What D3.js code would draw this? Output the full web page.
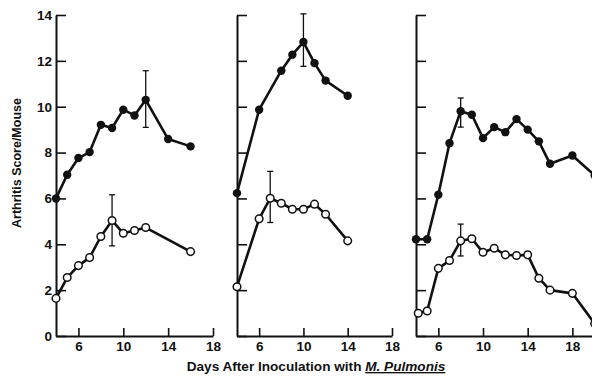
<!DOCTYPE html>
<html>
<head>
<meta charset="utf-8">
<script src="https://cdn.jsdelivr.net/npm/d3@7"></script>
<style>
  body { margin: 0; background: #fff; }
  svg { display: block; font-family: "Liberation Sans", Arial, sans-serif; font-weight: bold; }
</style>
</head>
<body>
<script>
// tick labels
const yTicks = [0, 2, 4, 6, 8, 10, 12, 14];
const xTicks = [6, 10, 14, 18];

// panel 1
const p1FilledDays = [4, 5, 6, 7, 8, 9, 10, 11, 12, 14, 16];
const p1Filled = [6.0, 7.03, 7.76, 8.02, 9.21, 9.07, 9.87, 9.62, 10.3, 8.59, 8.27];
const p1OpenDays = [4, 5, 6, 7, 8, 9, 10, 11, 12, 16];
const p1Open = [1.64, 2.55, 3.07, 3.42, 4.34, 5.04, 4.48, 4.6, 4.73, 3.68];
const p1Errors = [[12, 9.1, 11.57], [9, 3.93, 6.16]];

// panel 2
const p2FilledDays = [4, 6, 8, 9, 10, 11, 12, 14];
const p2Filled = [6.23, 9.87, 11.57, 12.27, 12.82, 11.9, 11.14, 10.48];
const p2OpenDays = [4, 6, 7, 8, 9, 10, 11, 12, 14];
const p2Open = [2.15, 5.11, 6.01, 5.79, 5.53, 5.53, 5.75, 5.31, 4.15];
const p2Errors = [[10, 11.76, 14.05], [7, 4.95, 7.18]];

// panel 3
const p3FilledDays = [4, 5, 6, 7, 8, 9, 10, 11, 12, 13, 14, 15, 16, 18, 20];
const p3Filled = [4.22, 4.22, 6.16, 8.41, 9.8, 9.65, 8.63, 9.11, 8.89, 9.46, 9.0, 8.49, 7.51, 7.87, 7.0];
const p3OpenDays = [4.2, 5, 6, 7, 8, 9, 10, 11, 12, 13, 14, 15, 16, 18, 20];
const p3Open = [0.99, 1.09, 2.95, 3.29, 4.15, 4.24, 3.65, 3.83, 3.54, 3.51, 3.54, 2.52, 2.0, 1.86, 0.54];
const p3Errors = [[8, 9.11, 10.38], [8, 3.49, 4.88]];

const width = 592, height = 388;

const svg = d3.select("body").append("svg")
    .attr("width", width)
    .attr("height", height);

const y = d3.scaleLinear().domain([0, 14]).range([336, 15]);

const panels = [
    { left: 56, right: 213, max: 18, labels: true, fd: p1FilledDays, fv: p1Filled, od: p1OpenDays, ov: p1Open, err: p1Errors },
    { left: 237, right: 392, max: 18, labels: false, fd: p2FilledDays, fv: p2Filled, od: p2OpenDays, ov: p2Open, err: p2Errors },
    { left: 416, right: 594.7, max: 20, labels: false, fd: p3FilledDays, fv: p3Filled, od: p3OpenDays, ov: p3Open, err: p3Errors }
];

panels.forEach(p => {
    const x = d3.scaleLinear().domain([4, p.max]).range([p.left, p.right]);
    const g = svg.append("g");

    // y axis, ticks pointing inward
    g.append("g")
        .attr("transform", "translate(" + p.left + ",0)")
        .call(d3.axisLeft(y).tickValues(yTicks).tickSizeInner(-10).tickSizeOuter(0).tickPadding(4)
            .tickFormat(p.labels ? d3.format("d") : () => ""));

    // x axis, ticks pointing up
    g.append("g")
        .attr("transform", "translate(0," + y(0) + ")")
        .call(d3.axisBottom(x).tickValues(xTicks).tickSizeInner(-8).tickSizeOuter(0).tickPadding(5));

    g.selectAll(".domain").attr("stroke", "#111").attr("stroke-width", 2);
    g.selectAll(".tick line").attr("stroke", "#111").attr("stroke-width", 1.6);
    g.selectAll(".tick text").attr("fill", "#111").attr("font-size", 13.5)
        .attr("font-weight", "bold").attr("font-family", "Liberation Sans, Arial, sans-serif");

    const line = d3.line()
        .x(d => x(d[0]))
        .y(d => y(d[1]));

    const filled = p.fd.map((d, i) => [d, p.fv[i]]);
    const open = p.od.map((d, i) => [d, p.ov[i]]);

    [filled, open].forEach(s => {
        g.append("path")
            .datum(s)
            .attr("fill", "none")
            .attr("stroke", "#111")
            .attr("stroke-width", 2.6)
            .attr("stroke-linejoin", "round")
            .attr("d", line);
    });

    // error bars
    p.err.forEach(e => {
        const ex = x(e[0]);
        g.append("line").attr("x1", ex).attr("x2", ex).attr("y1", y(e[1])).attr("y2", y(e[2]))
            .attr("stroke", "#111").attr("stroke-width", 1.3);
        [e[1], e[2]].forEach(v => {
            g.append("line").attr("x1", ex - 3).attr("x2", ex + 3).attr("y1", y(v)).attr("y2", y(v))
                .attr("stroke", "#111").attr("stroke-width", 1.3);
        });
    });

    g.selectAll(".dot-f")
        .data(filled)
        .enter().append("circle")
        .attr("cx", d => x(d[0]))
        .attr("cy", d => y(d[1]))
        .attr("r", 4.2)
        .attr("fill", "#111");

    g.selectAll(".dot-o")
        .data(open)
        .enter().append("circle")
        .attr("cx", d => x(d[0]))
        .attr("cy", d => y(d[1]))
        .attr("r", 3.8)
        .attr("fill", "#fff")
        .attr("stroke", "#111")
        .attr("stroke-width", 1.5);
});

// axis titles
svg.append("text")
    .attr("transform", "translate(21,163) rotate(-90)")
    .attr("text-anchor", "middle")
    .attr("font-size", 12.5)
    .attr("fill", "#111")
    .text("Arthritis Score/Mouse");

const xt = svg.append("text")
    .attr("x", 316)
    .attr("y", 371)
    .attr("text-anchor", "middle")
    .attr("font-size", 13.6)
    .attr("fill", "#111");
xt.append("tspan").text("Days After Inoculation with ");
xt.append("tspan")
    .attr("font-style", "italic")
    .attr("text-decoration", "underline")
    .text("M. Pulmonis");
</script>
</body>
</html>
